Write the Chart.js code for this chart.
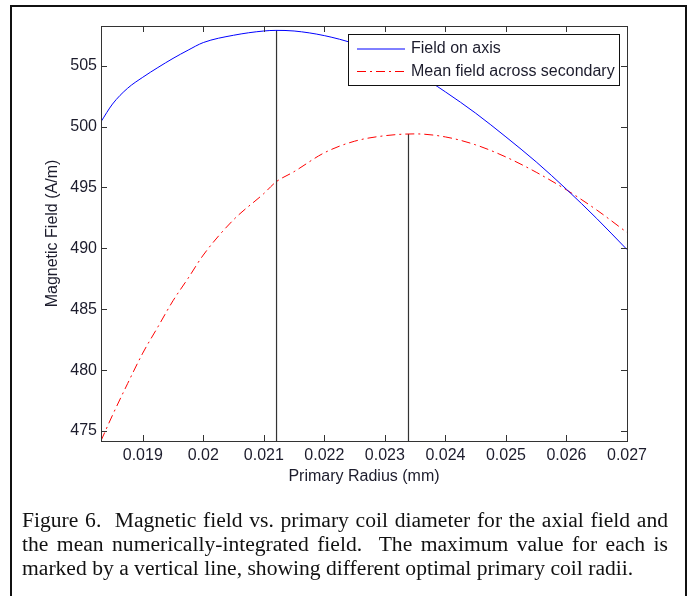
<!DOCTYPE html>
<html>
<head>
<meta charset="utf-8">
<script src="https://cdn.jsdelivr.net/npm/chart.js@4.4.0/dist/chart.umd.min.js"></script>
<style>
  body { margin: 0; background: #fff; }
  #frame { position: absolute; left: 10px; top: 5px; width: 673px; height: 600px;
           border: 2px solid #111; border-bottom: none; }
  #fieldChart { position: absolute; left: 0; top: 0; }
  #caption { position: absolute; left: 22px; top: 508px; width: 646px;
             font-family: "Liberation Serif", "Times New Roman", serif; font-size: 21.6px;
             line-height: 24px; color: #111; }
  #caption div { text-align: justify; text-align-last: justify; white-space: nowrap; }
  #caption div.last { text-align: left; text-align-last: left; }
</style>
</head>
<body>
<div id="frame"></div>
<canvas id="fieldChart" width="697" height="596"></canvas>
<div id="caption">
  <div>Figure 6.&nbsp; Magnetic field vs. primary coil diameter for the axial field and</div>
  <div>the mean numerically-integrated field.&nbsp; The maximum value for each is</div>
  <div class="last">marked by a vertical line, showing different optimal primary coil radii.</div>
</div>
<script>
// primary radius samples (x axis)
const radius = [0.01831, 0.0185, 0.01875, 0.019, 0.01925, 0.0195, 0.01975, 0.020, 0.0205, 0.021,
                0.0212, 0.0215, 0.022, 0.0225, 0.023, 0.0235, 0.024, 0.0245, 0.025, 0.0255,
                0.026, 0.0265, 0.027];
const fieldOnAxis = [500.4, 501.85, 503.15, 504.05, 504.85, 505.6, 506.28, 506.9, 507.5, 507.85,
                     507.9, 507.85, 507.47, 506.8, 505.8, 504.45, 502.85, 501.1, 499.15, 497.1,
                     494.85, 492.45, 489.9];
const meanField = [474.2, 476.3, 478.9, 481.4, 483.55, 485.7, 487.55, 489.45, 492.35, 494.5,
                   495.45, 496.3, 497.85, 498.8, 499.25, 499.4, 499.15, 498.5, 497.5, 496.25,
                   494.8, 493.15, 491.3];
const peakRadius = [0.02121, 0.02339];
const peakField = [507.9, 499.4];

const xTicks = [0.019, 0.020, 0.021, 0.022, 0.023, 0.024, 0.025, 0.026, 0.027];
const xTickLabels = ['0.019', '0.02', '0.021', '0.022', '0.023', '0.024', '0.025', '0.026', '0.027'];
const yTicks = [475, 480, 485, 490, 495, 500, 505];
const xMin = 0.01831, xMax = 0.027, yMin = 474.18, yMax = 508.26;

const textColor = '#1c1c2c';
const axisFont = { family: 'Liberation Sans, Arial, sans-serif', size: 16 };

function pairs(xs, ys) {
  return xs.map((v, i) => ({ x: v, y: ys[i] }));
}

const frameAndLegend = {
  id: 'frameAndLegend',
  afterDatasetsDraw(chart) {
    const { ctx, chartArea: a, scales: { x, y } } = chart;
    ctx.save();
    ctx.strokeStyle = '#333';
    ctx.lineWidth = 1;
    ctx.strokeRect(a.left + 0.5, a.top + 0.5, a.right - a.left, a.bottom - a.top);
    ctx.beginPath();
    xTicks.forEach(v => {
      const px = Math.round(x.getPixelForValue(v)) + 0.5;
      ctx.moveTo(px, a.bottom); ctx.lineTo(px, a.bottom - 6);
      ctx.moveTo(px, a.top); ctx.lineTo(px, a.top + 6);
    });
    yTicks.forEach(v => {
      const py = Math.round(y.getPixelForValue(v)) + 0.5;
      ctx.moveTo(a.left, py); ctx.lineTo(a.left + 6, py);
      ctx.moveTo(a.right, py); ctx.lineTo(a.right - 6, py);
    });
    ctx.stroke();
    ctx.restore();
  },
  afterDraw(chart) {
    const { ctx, chartArea: a } = chart;
    const bx = a.right - 279, by = a.top + 8, bw = 271, bh = 51;
    ctx.save();
    ctx.fillStyle = '#fff';
    ctx.fillRect(bx, by, bw, bh);
    ctx.strokeStyle = '#111';
    ctx.lineWidth = 1;
    ctx.strokeRect(bx + 0.5, by + 0.5, bw, bh);
    ctx.font = '16px "Liberation Sans", Arial, sans-serif';
    ctx.textBaseline = 'middle';
    chart.data.datasets.slice(0, 2).forEach((ds, i) => {
      const ly = by + 15 + i * 22.5;
      ctx.strokeStyle = ds.borderColor;
      ctx.setLineDash(ds.borderDash || []);
      ctx.beginPath();
      ctx.moveTo(bx + 9, ly); ctx.lineTo(bx + 57, ly);
      ctx.stroke();
      ctx.fillStyle = textColor;
      ctx.fillText(ds.label, bx + 63, ly);
    });
    ctx.restore();
  }
};

const fieldChart = new Chart(document.getElementById('fieldChart'), {
  type: 'line',
  data: {
    datasets: [
      {
        label: 'Field on axis',
        data: pairs(radius, fieldOnAxis),
        borderColor: '#0000ff',
        borderWidth: 1,
        pointRadius: 0,
        cubicInterpolationMode: 'monotone'
      }, {
        label: 'Mean field across secondary',
        data: pairs(radius, meanField),
        borderColor: '#ff0000',
        borderWidth: 1,
        borderDash: [9, 4, 2, 4],
        pointRadius: 0,
        cubicInterpolationMode: 'monotone'
      }, {
        label: 'peak axis',
        data: [{ x: peakRadius[0], y: yMin }, { x: peakRadius[0], y: peakField[0] }],
        borderColor: '#333',
        borderWidth: 1.2,
        pointRadius: 0
      }, {
        label: 'peak mean',
        data: [{ x: peakRadius[1], y: yMin }, { x: peakRadius[1], y: peakField[1] }],
        borderColor: '#333',
        borderWidth: 1.2,
        pointRadius: 0
      }
    ]
  },
  options: {
    responsive: false,
    animation: false,
    layout: { padding: { left: 38.5, top: 26, right: 70, bottom: 106 } },
    plugins: { legend: { display: false }, tooltip: { enabled: false } },
    scales: {
      x: {
        type: 'linear',
        min: xMin,
        max: xMax,
        afterBuildTicks: s => { s.ticks = xTicks.map(v => ({ value: v })); },
        afterFit: s => { s.height = 49; },
        grid: { display: false, drawTicks: false },
        border: { display: false },
        ticks: { padding: 4.5, font: axisFont, color: textColor, maxRotation: 0,
                  callback: (v, i) => xTickLabels[i] },
        title: { display: true, text: 'Primary Radius (mm)', font: axisFont, color: textColor,
                 padding: { top: 4, bottom: 4 } }
      },
      y: {
        min: yMin,
        max: yMax,
        afterBuildTicks: s => { s.ticks = yTicks.map(v => ({ value: v })); },
        afterFit: s => { s.width = 62.5; },
        grid: { display: false, drawTicks: false },
        border: { display: false },
        ticks: { padding: 4, font: axisFont, color: textColor },
        title: { display: true, text: 'Magnetic Field (A/m)', font: axisFont, color: textColor,
                 padding: { top: 4, bottom: 4 } }
      }
    }
  },
  plugins: [frameAndLegend]
});
</script>
</body>
</html>
